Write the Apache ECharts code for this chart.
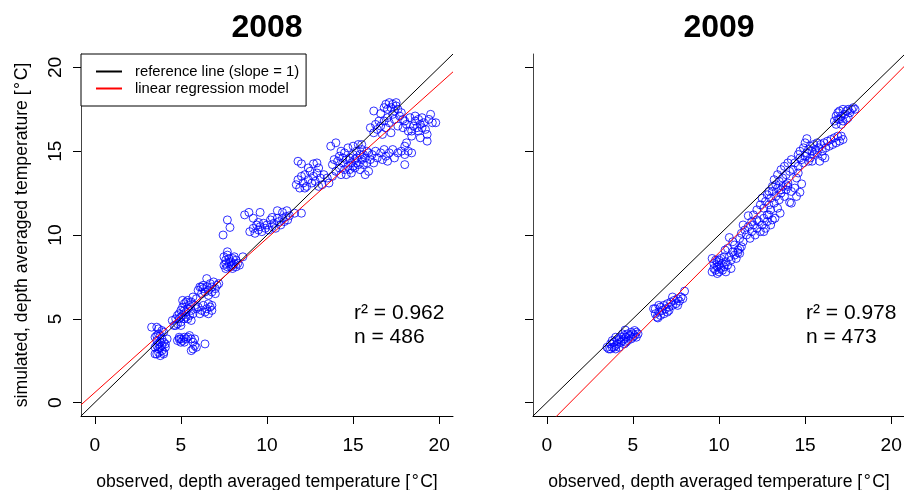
<!DOCTYPE html>
<html>
<head>
<meta charset="utf-8">
<script src="https://cdn.jsdelivr.net/npm/echarts@6/dist/echarts.min.js"></script>
<style>html,body{margin:0;padding:0;background:#fff}#c{width:904px;height:490px}</style>
</head>
<body>
<div id="c"></div>
<script>
// ---- data ----
const panelTitles = ['2008', '2009'];
const tickValues = [0, 5, 10, 15, 20];
const axisRange = [-0.8, 20.8];
const r2Values = ['0.962', '0.978'];
const nValues = [486, 473];
const regIntercept = [0.6, -1.4];
const regSlope = [0.92, 1.034];

const points2008 = [
 [3.3,4.5],[3.6,4.5],[3.7,4.4],[3.5,3.9],[3.6,3.7],[3.7,3.5],[3.8,3.3],[3.9,3.1],[3.7,3.0],[3.6,2.9],
 [3.8,2.8],[3.5,2.9],[4.0,3.0],[4.1,3.3],[4.0,3.6],[3.9,3.8],[3.8,4.0],[4.0,4.2],[3.7,4.1],[3.6,3.4],
 [3.9,3.4],[4.1,3.5],[3.8,3.6],[3.5,3.3],[4.0,2.9],[3.7,3.2],[4.2,3.8],[3.9,4.3],[3.6,4.0],
 [4.8,3.7],[4.9,3.9],[5.0,3.8],[5.1,3.7],[5.2,3.9],[5.3,3.8],[5.0,3.6],[5.4,3.9],[5.5,4.0],[5.6,3.8],
 [5.7,3.6],[5.8,3.4],[5.7,3.2],[5.9,3.3],[5.6,3.1],[6.4,3.5],[5.2,3.6],[4.9,3.8],[5.8,3.8],
 [4.5,4.9],[4.6,4.6],[4.7,5.0],[4.8,4.7],[4.9,5.3],[4.9,5.0],[5.0,5.5],[5.0,4.8],[5.1,5.2],[5.1,5.7],
 [5.2,5.0],[5.2,5.9],[5.3,6.0],[5.3,5.4],[5.4,5.6],[5.4,6.1],[5.5,5.8],[5.5,5.2],[5.6,6.0],[5.6,5.5],
 [5.7,5.3],[5.7,6.3],[5.8,5.8],[5.9,5.6],[5.3,5.1],[5.0,5.1],[4.8,5.2],[5.2,5.5],[5.1,6.1],[5.4,5.0],
 [5.6,4.9],[4.7,4.6],[5.0,4.6],[5.9,6.2],
 [6.0,5.7],[6.2,5.5],[6.3,5.8],[6.4,5.4],[6.5,5.6],[6.6,5.3],[6.7,5.7],[6.8,5.5],[6.6,5.9],[6.1,5.3],[6.8,5.8],
 [6.0,6.7],[6.1,6.9],[6.2,6.5],[6.3,6.8],[6.3,7.0],[6.4,6.6],[6.5,7.4],[6.5,6.9],[6.6,6.7],[6.7,7.1],
 [6.8,6.9],[6.9,7.2],[7.0,6.8],[7.1,7.0],[7.0,6.5],[6.6,6.4],[6.2,6.9],[6.8,6.6],[7.2,7.1],
 [7.5,8.2],[7.6,8.5],[7.6,8.0],[7.7,8.8],[7.7,9.0],[7.8,8.3],[7.8,8.6],[7.9,8.1],[7.9,8.4],[8.0,8.2],
 [8.0,8.6],[8.1,8.3],[8.2,8.1],[8.2,8.5],[8.3,8.3],[8.4,8.2],[8.6,8.7],[7.5,8.7],[7.7,8.1],[8.0,8.0],
 [8.1,8.7],[7.6,8.3],
 [7.45,10.0],[7.7,10.9],[7.85,10.45],[8.7,11.2],[8.95,11.35],[9.6,11.35],[9.2,11.0],[9.5,10.75],[10.3,11.05],[10.6,11.45],
 [10.9,11.35],[11.3,11.15],[11.6,11.3],[12.0,11.3],[11.15,11.45],
 [9.0,10.2],[9.2,10.4],[9.3,10.1],[9.5,10.3],[9.6,10.5],[9.7,10.2],[9.9,10.4],[10.0,10.6],[10.1,10.3],[10.3,10.5],
 [10.4,10.7],[10.5,10.4],[10.7,10.8],[10.8,10.6],[10.9,11.0],[11.0,10.8],[11.1,11.1],[10.2,10.9],[9.8,10.7],[9.4,10.6],
 [10.6,11.0],[11.2,10.9],
 [11.8,14.4],[12.0,14.25],[12.7,14.25],[13.0,14.0],[11.7,13.0],[11.8,13.3],[11.9,12.8],[12.0,13.5],[12.1,13.1],[12.2,13.6],
 [12.3,12.9],[12.4,13.3],[12.5,13.8],[12.6,13.1],[12.7,13.5],[12.8,13.2],[12.9,13.7],[13.0,12.9],[13.1,13.4],[13.2,13.0],
 [12.4,14.0],[12.2,12.8],[13.3,13.6],[13.6,13.1],[12.9,14.3],[13.5,13.4],[13.8,13.5],
 [13.8,14.2],[13.9,14.5],[14.0,13.8],[14.1,14.4],[14.2,14.0],[14.2,14.7],[14.3,13.6],[14.4,14.3],[14.5,14.9],[14.5,13.9],
 [14.6,14.5],[14.7,14.1],[14.7,15.2],[14.8,14.6],[14.9,14.3],[14.9,13.7],[15.0,14.8],[15.0,15.3],[15.1,14.5],[15.1,14.0],
 [15.2,15.0],[15.2,14.6],[15.3,14.2],[15.3,15.4],[15.4,14.8],[15.4,13.9],[15.5,14.5],[15.5,15.1],[15.6,14.2],[15.6,14.8],
 [15.7,14.6],[15.8,15.0],[15.8,14.3],[15.9,13.8],[16.0,14.5],[14.0,15.5],[13.7,15.3],[14.3,15.0],[14.6,13.6],[15.7,13.6],
 [14.8,13.9],[15.0,14.1],[15.2,14.3],[14.4,14.6],[15.9,14.9],
 [16.1,14.8],[16.3,15.0],[16.4,14.6],[16.6,14.9],[16.8,15.1],[16.9,14.7],[17.1,14.9],[17.3,15.1],[17.4,14.6],[17.6,14.9],
 [17.8,15.0],[18.0,14.8],[18.2,15.0],[18.4,14.9],[17.0,14.4],[16.2,14.3],[16.7,14.5],[15.5,15.4],[18.0,14.2],
 [16.2,17.4],[16.6,17.25],[16.9,17.8],[17.0,17.5],[17.1,17.9],[17.2,17.6],[17.3,17.8],[17.4,17.4],[17.5,17.7],[17.6,17.5],
 [17.3,17.2],[17.0,17.0],[16.8,16.8],[16.6,16.5],[16.4,16.3],[16.2,16.1],[16.5,16.8],[16.9,16.4],[17.1,16.7],[17.4,16.9],
 [17.7,17.1],[16.0,16.4],[17.2,16.1],[17.6,16.5],[16.7,16.0],[17.5,17.9],[16.8,17.6],[18.0,16.8],[17.8,17.3],[16.3,16.6],
 [17.9,16.9],[18.1,16.6],[18.2,16.2],[18.3,17.0],[18.5,16.5],[18.6,16.8],[18.7,16.4],[18.8,16.9],[18.9,16.6],[19.0,17.0],
 [19.1,16.7],[19.2,16.3],[19.3,16.0],[19.3,15.6],[19.4,16.9],[19.5,17.2],[19.6,16.7],[19.8,16.7],[18.4,16.2],[18.0,15.3],
 [18.1,15.5],[19.0,16.4],[18.6,17.1],[17.9,16.4],[18.8,16.2],[18.9,15.8],[18.4,15.9]
];

const points2009 = [
 [3.5,3.3],[3.6,3.2],[3.7,3.5],[3.8,3.3],[3.9,3.6],[4.0,3.4],[4.1,3.7],[4.1,3.5],[4.2,3.8],[4.3,3.6],
 [4.3,3.9],[4.4,3.7],[4.5,4.0],[4.5,3.8],[4.6,3.9],[4.7,4.1],[4.7,3.7],[4.8,4.0],[4.9,4.2],[4.9,3.8],
 [5.0,4.1],[5.0,3.9],[5.1,4.0],[5.2,4.2],[5.2,3.9],[5.3,4.1],[4.0,3.9],[3.8,3.7],[4.2,3.3],[4.4,4.1],
 [4.6,3.6],[4.55,4.33],[3.7,3.2],[4.0,3.2],[5.1,4.3],[4.5,3.5],[3.9,3.3],
 [6.2,5.6],[6.3,5.3],[6.4,5.1],[6.45,5.05],[6.5,5.4],[6.6,5.7],[6.6,5.2],[6.7,5.5],[6.8,5.8],[6.8,5.3],
 [6.9,5.6],[7.0,5.9],[7.0,5.4],[7.1,5.7],[7.2,6.0],[7.3,5.8],[7.4,6.1],[7.5,5.9],[7.6,6.2],[7.7,6.05],
 [7.8,6.3],[7.9,6.2],[8.0,6.65],[7.3,6.3],[6.5,5.8],[6.3,5.6],[7.6,5.8],[7.1,5.5],
 [9.6,7.8],[9.7,8.0],[9.7,8.3],[9.8,7.9],[9.8,8.5],[9.9,8.1],[9.9,8.4],[10.0,7.8],[10.0,8.2],[10.1,8.0],
 [10.1,8.6],[10.2,8.3],[10.2,7.9],[10.3,8.1],[10.4,8.4],[10.5,8.2],[10.6,8.7],[10.7,8.5],[10.8,9.0],[10.9,8.8],
 [11.0,8.6],[11.1,9.1],[11.2,8.9],[10.5,9.2],[10.9,9.4],[11.3,9.3],[9.6,8.6],[10.3,8.7],[10.7,8.0],[10.0,8.5],
 [9.9,7.7],[10.4,7.8],
 [10.35,9.1],[10.6,9.85],[11.2,9.2],[11.1,8.95],[10.8,9.6],
 [11.2,9.8],[11.3,10.1],[11.4,9.6],[11.5,10.3],[11.6,10.0],[11.7,10.5],[11.8,9.8],[11.9,10.2],[12.0,10.6],[12.1,10.0],
 [12.2,10.4],[12.3,10.8],[12.4,10.2],[12.5,10.6],[12.6,11.0],[12.7,10.4],[12.8,10.8],[12.9,11.2],[13.0,10.6],[11.7,11.15],
 [12.0,11.2],[11.4,10.6],[12.2,10.9],[13.1,10.9],[11.9,10.8],[12.6,10.2],
 [12.2,11.5],[12.4,11.8],[12.5,12.2],[12.6,11.6],[12.7,12.0],[12.8,12.4],[12.9,11.8],[13.0,12.2],[13.1,12.6],[13.2,11.9],
 [13.3,12.3],[13.4,12.8],[13.5,12.1],[13.6,12.5],[13.7,12.9],[13.8,12.3],[13.9,12.7],[14.0,13.1],[14.1,11.95],[13.55,11.3],
 [13.25,11.0],[14.7,12.55],[14.5,12.3],[13.0,11.5],[12.8,11.2],[13.4,11.6],[14.2,12.6],[13.3,13.0],[13.1,12.9],[12.9,12.6],
 [13.2,13.3],[13.4,13.6],[13.5,13.2],[13.6,13.9],[13.7,13.4],[13.8,14.1],[13.9,13.6],[14.0,14.3],[14.1,13.8],[14.2,14.5],
 [14.3,13.9],[14.4,14.3],[14.5,13.4],[14.6,14.1],[14.7,14.6],[14.8,13.05],[14.2,11.9],[14.0,12.9],[14.4,12.8],[14.6,13.7],
 [13.6,12.7],[13.9,13.0],
 [14.6,14.8],[14.7,15.0],[14.8,14.5],[14.9,15.2],[15.0,14.7],[15.0,15.5],[15.1,15.75],[15.1,14.9],[15.2,15.1],[15.3,14.6],
 [15.3,15.3],[15.4,15.0],[15.5,14.8],[15.5,15.4],[15.6,15.1],[15.7,15.5],[15.8,15.2],[15.85,14.4],[15.9,15.4],[16.0,15.0],
 [16.1,15.5],[16.15,14.6],[16.2,15.2],[16.3,15.6],[16.4,15.3],[16.5,15.7],[16.6,15.4],[16.7,15.8],[16.8,15.5],[16.9,15.9],
 [17.0,15.6],[17.1,15.9],[17.2,15.7],[15.4,14.4],[14.9,14.3],[15.7,14.9],[16.0,14.7],[15.2,14.4],
 [16.7,16.8],[16.8,17.1],[16.8,16.6],[16.9,17.3],[17.0,16.9],[17.0,17.4],[17.1,17.1],[17.2,16.8],[17.2,17.5],[17.3,17.2],
 [17.4,17.4],[17.5,17.0],[17.5,17.5],[17.6,17.3],[17.7,17.5],[17.8,17.6],[17.1,16.6],[16.9,16.9],[17.4,16.9],[17.9,17.5]
];
const panelPoints = [points2008, points2009];

// ---- chart ----
const FONT = "'Liberation Sans', Arial, Helvetica, sans-serif";
const gridLefts = [81, 533];
const gridTop = 54, gridW = 372, gridH = 362;
const axisTitleX = 'observed, depth averaged temperature [\u200A°\u200AC]';
const axisTitleY = 'simulated, depth averaged temperature [\u200A°\u200AC]';

const chart = echarts.init(document.getElementById('c'), null, {renderer: 'canvas'});

const grids = [], xAxes = [], yAxes = [], series = [], graphics = [];
for (let i = 0; i < 2; i++) {
  grids.push({left: gridLefts[i], top: gridTop, width: gridW, height: gridH, containLabel: false, outerBoundsMode: 'none'});
  xAxes.push({
    type: 'value', gridIndex: i, min: axisRange[0], max: axisRange[1],
    axisLine: {show: true, onZero: false, lineStyle: {color: '#000', width: 1}},
    axisTick: {show: true, inside: false, length: 8, customValues: tickValues, lineStyle: {color: '#000', width: 1}},
    axisLabel: {show: true, customValues: tickValues, margin: 20, fontSize: 19.2, color: '#000', fontFamily: FONT},
    splitLine: {show: false},
    name: axisTitleX, nameLocation: 'middle', nameGap: 57,
    nameTextStyle: {fontSize: 17.6, color: '#000', fontFamily: FONT}
  });
  yAxes.push({
    type: 'value', gridIndex: i, min: axisRange[0], max: axisRange[1], position: 'left',
    axisLine: {show: true, onZero: false, lineStyle: {color: '#444', width: 1}},
    axisTick: {show: true, inside: false, length: 8, customValues: tickValues, lineStyle: {color: '#000', width: 1}},
    axisLabel: {show: i === 0, customValues: tickValues, rotate: 90, margin: 16, fontSize: 19.2, color: '#000', fontFamily: FONT},
    splitLine: {show: false},
    name: i === 0 ? axisTitleY : '', nameLocation: 'middle', nameGap: 50, nameRotate: 90,
    nameTextStyle: {fontSize: 17.6, color: '#000', fontFamily: FONT}
  });
  series.push({
    type: 'scatter', xAxisIndex: i, yAxisIndex: i, data: panelPoints[i],
    symbol: 'circle', symbolSize: 8,
    itemStyle: {color: 'rgba(0,0,0,0)', borderColor: '#0000ff', borderWidth: 1},
    emphasis: {disabled: true}, z: 2
  });
  series.push({
    type: 'line', name: 'reference line (slope = 1)', xAxisIndex: i, yAxisIndex: i,
    data: [[axisRange[0], axisRange[0]], [axisRange[1], axisRange[1]]],
    symbol: 'none', lineStyle: {color: '#000', width: 1}, itemStyle: {color: '#000'}, z: 3, clip: true,
    emphasis: {disabled: true}
  });
  const x0 = axisRange[0], x1 = axisRange[1];
  series.push({
    type: 'line', name: 'linear regression model', xAxisIndex: i, yAxisIndex: i,
    data: [[x0, regIntercept[i] + regSlope[i] * x0], [x1, regIntercept[i] + regSlope[i] * x1]],
    symbol: 'none', lineStyle: {color: '#ff0000', width: 1}, itemStyle: {color: '#ff0000'}, z: 3, clip: true,
    emphasis: {disabled: true}
  });
  const cx = gridLefts[i] + gridW / 2;
  graphics.push({
    type: 'text', x: cx, y: 28,
    style: {text: panelTitles[i], fontSize: 32, fontWeight: 'bold', fontFamily: FONT, fill: '#000', align: 'center', verticalAlign: 'middle'}
  });
  const sx = gridLefts[i] + 273;
  graphics.push({
    type: 'text', x: sx, y: 313,
    style: {text: 'r² = ' + r2Values[i], fontSize: 21, fontFamily: FONT, fill: '#000', align: 'left', verticalAlign: 'middle'}
  });
  graphics.push({
    type: 'text', x: sx, y: 337,
    style: {text: 'n = ' + nValues[i], fontSize: 21, fontFamily: FONT, fill: '#000', align: 'left', verticalAlign: 'middle'}
  });
}

chart.setOption({
  animation: false,
  backgroundColor: '#fff',
  grid: grids, xAxis: xAxes, yAxis: yAxes, series: series,
  legend: {
    show: true, left: 81, top: 54, orient: 'vertical',
    data: ['reference line (slope = 1)', 'linear regression model'],
    padding: [9, 7, 9, 14], itemGap: 0, itemWidth: 26, itemHeight: 17,
    borderColor: '#000', borderWidth: 1, borderRadius: 0, backgroundColor: '#fff',
    selectedMode: false,
    itemStyle: {color: 'rgba(0,0,0,0)', borderWidth: 0, opacity: 0},
    textStyle: {fontSize: 14.8, color: '#000', fontFamily: FONT, padding: [0, 0, 0, 8], lineHeight: 17}
  },
  graphic: graphics
});
</script>
</body>
</html>
